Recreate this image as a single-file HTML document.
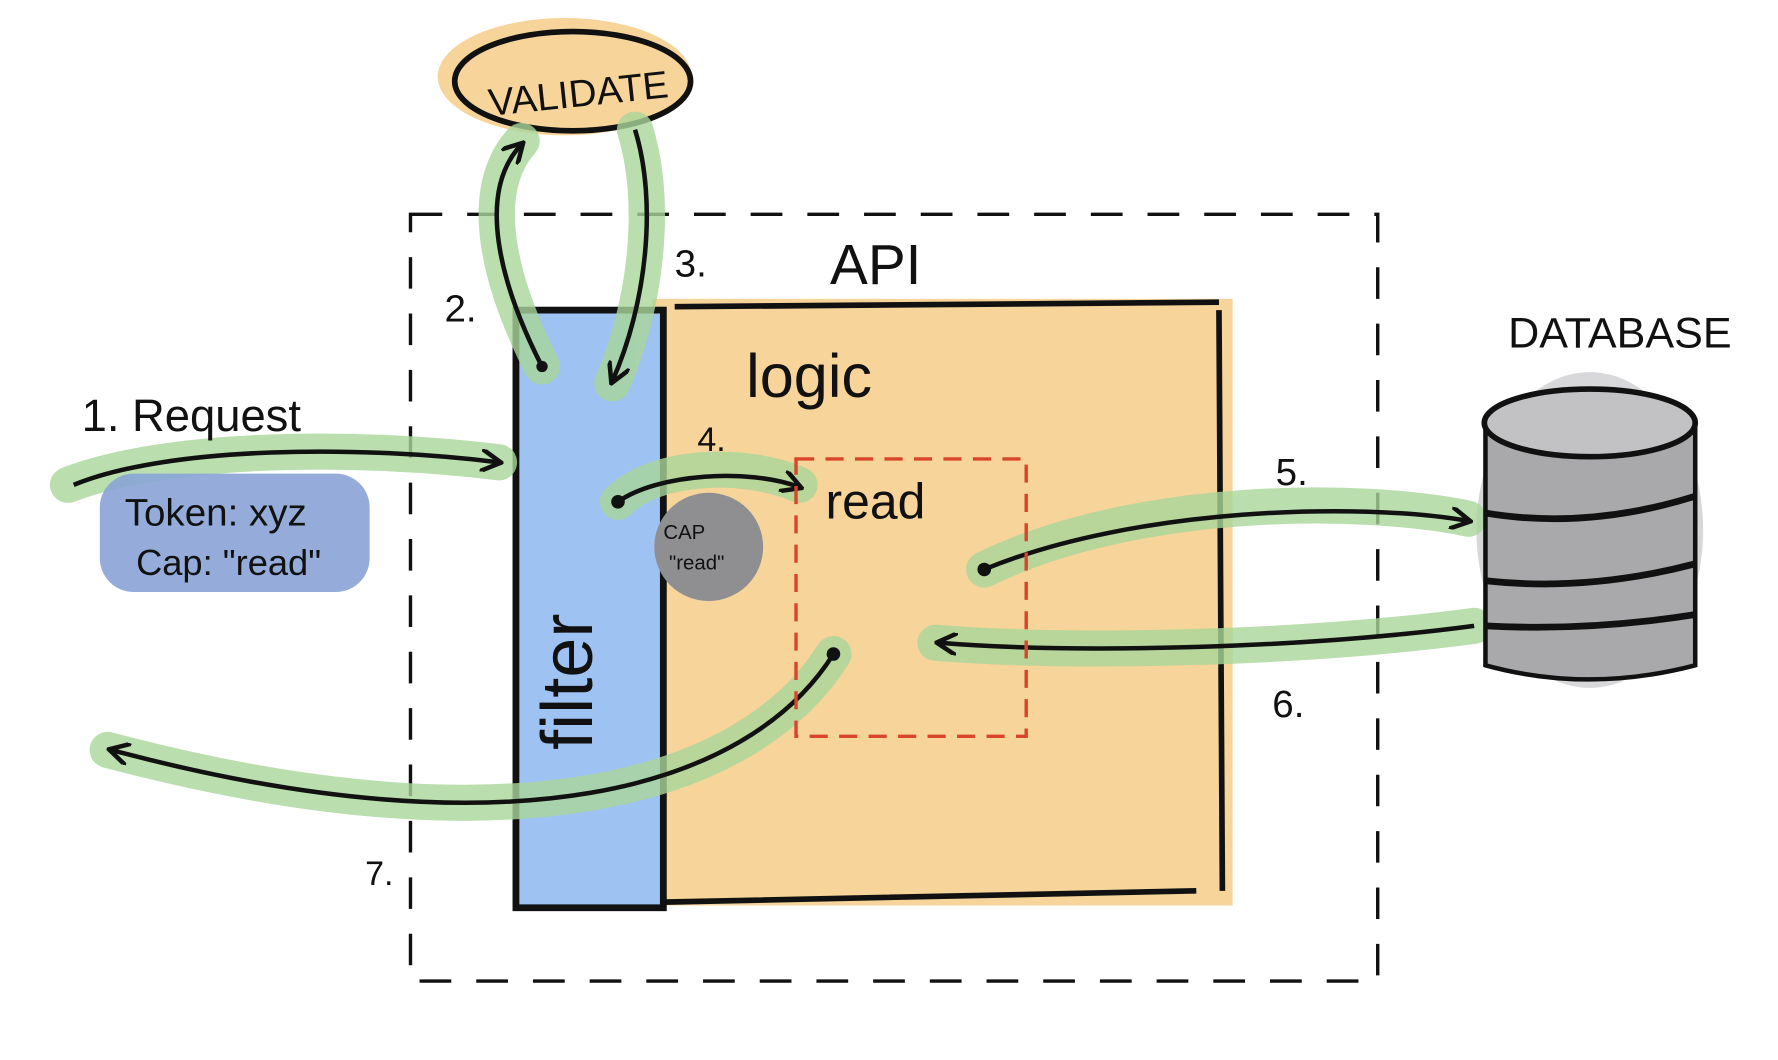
<!DOCTYPE html>
<html><head><meta charset="utf-8"><style>
html,body{margin:0;padding:0;background:#fff;}
svg{display:block;}
text{font-family:"Liberation Sans",sans-serif;fill:#111;}
</style></head><body>
<svg width="1778" height="1060" viewBox="0 0 1568 940" preserveAspectRatio="none" xmlns="http://www.w3.org/2000/svg">
<defs>
<marker id="ah" viewBox="0 0 10 10" refX="8" refY="5" markerWidth="5" markerHeight="5" orient="auto"><path d="M0,0 L9,5 L0,10" fill="none" stroke="#111" stroke-width="2"/></marker>
</defs>
<!-- validate -->
<ellipse cx="498" cy="68" rx="112" ry="52" fill="#f6d49a"/>
<ellipse cx="505" cy="72" rx="104" ry="44" fill="none" stroke="#111" stroke-width="5"/>
<text x="430" y="95" font-size="34" transform="rotate(-6 505 80)">VALIDATE</text>
<!-- dashed box -->
<rect x="362" y="190" width="853" height="680" fill="none" stroke="#111" stroke-width="3" stroke-dasharray="28 22"/>
<!-- logic box -->
<rect x="575" y="265" width="512" height="538" fill="#f6d49a"/>
<path d="M595 272 L1075 268 M1075 275 L1078 790 M585 800 L1055 790" stroke="#111" stroke-width="5" fill="none"/>
<!-- filter -->
<rect x="455" y="275" width="130" height="530" fill="#9ec2f2" stroke="#111" stroke-width="6"/>
<text x="0" y="0" font-size="64" transform="translate(522,665) rotate(-90)">filter</text>
<!-- database blob -->
<ellipse cx="1402" cy="470" rx="100" ry="140" fill="#c8c8ca" opacity="0.7"/>
<!-- green paths -->
<g stroke="#a9d69a" stroke-width="32" fill="none" stroke-linecap="round" opacity="0.8">
<path d="M478 325 C440 250 420 170 460 125"/>
<path d="M560 115 C580 180 570 270 540 340"/>
<path d="M60 430 C150 395 320 395 440 410"/>
<path d="M545 445 C580 410 660 410 705 430"/>
<path d="M868 505 C1000 440 1200 440 1295 460"/>
<path d="M1300 555 C1150 575 950 580 825 570"/>
<path d="M735 580 C660 700 450 760 95 665"/>
</g>
<g stroke="#111" stroke-width="4" fill="none" marker-end="url(#ah)">
<path d="M478 325 C440 250 420 170 460 128"/>
<path d="M560 115 C580 180 570 270 540 338"/>
<path d="M65 430 C150 395 320 395 440 410"/>
<path d="M545 445 C580 420 660 415 705 432"/>
<path d="M868 505 C1000 450 1200 445 1295 462"/>
<path d="M1300 555 C1150 575 950 580 828 570"/>
<path d="M735 580 C660 700 450 760 98 665"/>
</g>
<circle cx="478" cy="325" r="5" fill="#111"/><circle cx="545" cy="445" r="6" fill="#111"/>
<circle cx="868" cy="505" r="6" fill="#111"/><circle cx="735" cy="580" r="6" fill="#111"/>
<!-- red dashed -->
<rect x="702" y="407" width="203" height="246" fill="none" stroke="#d9452b" stroke-width="3" stroke-dasharray="16 10"/>
<text x="728" y="460" font-size="44">read</text>
<text x="658" y="352" font-size="54">logic</text>
<text x="732" y="252" font-size="50">API</text>
<text x="595" y="245" font-size="34">3.</text>
<text x="392" y="285" font-size="34">2.</text>
<text x="615" y="400" font-size="30">4.</text>
<text x="1125" y="430" font-size="34">5.</text>
<text x="1122" y="636" font-size="34">6.</text>
<text x="322" y="785" font-size="30">7.</text>
<!-- cap circle -->
<circle cx="625" cy="485" r="48" fill="#8f8f92"/>
<text x="585" y="478" font-size="18">CAP</text>
<text x="590" y="505" font-size="18">"read"</text>
<!-- request -->
<text x="72" y="382" font-size="40">1. Request</text>
<rect x="88" y="420" width="238" height="105" rx="30" fill="#8aa3d6" opacity="0.9"/>
<text x="110" y="466" font-size="34">Token: xyz</text>
<text x="120" y="510" font-size="32">Cap: "read"</text>
<!-- database -->
<text x="1330" y="308" font-size="38">DATABASE</text>
<path d="M1310 375 L1310 590 Q1400 615 1495 590 L1495 375 Z" fill="#a9a9ab" stroke="#111" stroke-width="4"/>
<ellipse cx="1402" cy="375" rx="93" ry="30" fill="#c2c2c4" stroke="#111" stroke-width="5"/>
<path d="M1310 455 Q1400 470 1495 440 M1310 515 Q1400 525 1495 500 M1310 555 Q1400 560 1495 545" stroke="#111" stroke-width="6" fill="none"/>
</svg>
</body></html>
